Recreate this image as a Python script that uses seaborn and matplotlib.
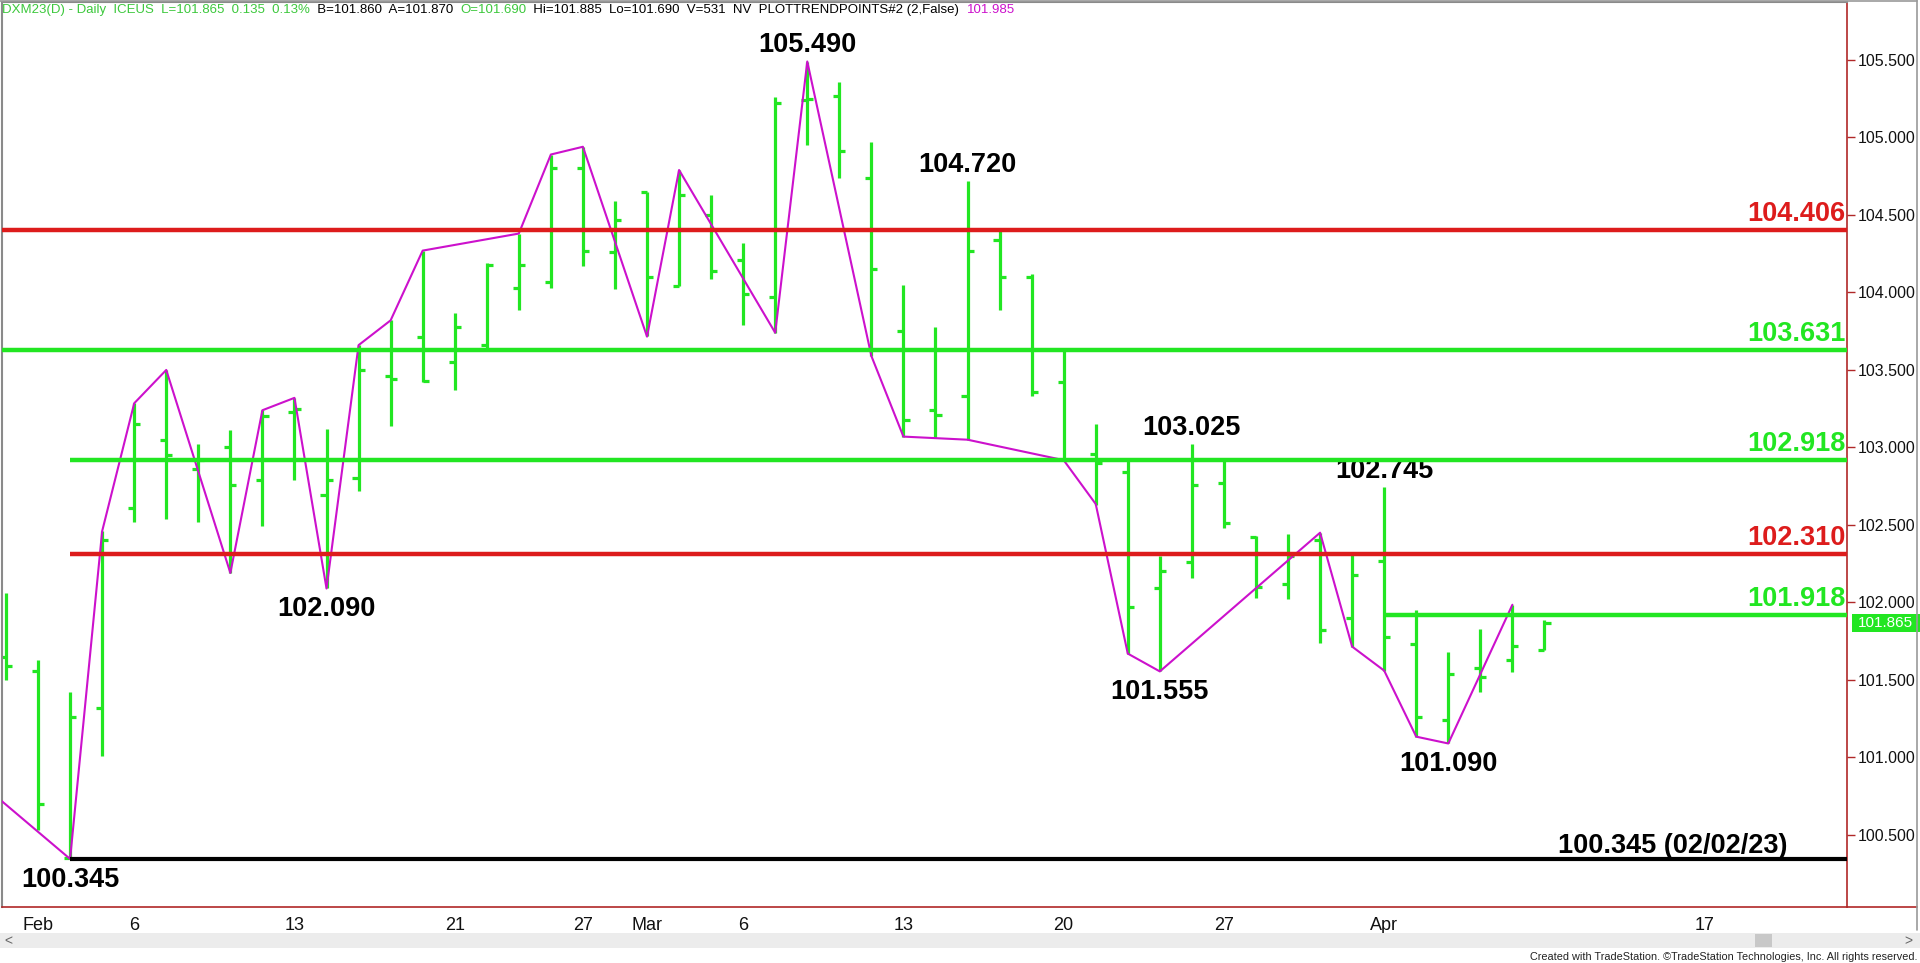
import matplotlib
matplotlib.use('Agg')
import matplotlib.pyplot as plt
from matplotlib import font_manager
from matplotlib.patches import Rectangle
from matplotlib.lines import Line2D
import pandas as pd
import seaborn as sns

# Daily OHLC bars of DXM23, Jan 31 .. Apr 10 (one entry per trading day)
opens = [101.65, 101.56, 100.35, 101.32, 102.61, 103.05, 102.86, 103.00, 102.79, 103.23,
         102.69, 102.80, 103.46, 103.71, 103.55, 103.66, 104.03, 104.07, 104.80, 104.26,
         104.65, 104.04, 104.50, 104.21, 103.97, 105.24, 105.27, 104.74, 103.75, 103.24,
         103.33, 104.34, 104.10, 103.42, 102.96, 102.84, 102.09, 102.26, 102.77, 102.42,
         102.12, 102.40, 101.90, 102.27, 101.73, 101.24, 101.58, 101.63, 101.69]
highs = [102.06, 101.63, 101.42, 102.46, 103.29, 103.50, 103.02, 103.11, 103.24, 103.32,
         103.12, 103.66, 103.82, 104.27, 103.87, 104.19, 104.38, 104.89, 104.94, 104.59,
         104.65, 104.79, 104.63, 104.32, 105.26, 105.49, 105.36, 104.97, 104.05, 103.78,
         104.72, 104.40, 104.12, 103.64, 103.15, 102.91, 102.30, 103.025, 102.91, 102.43,
         102.44, 102.45, 102.31, 102.745, 101.95, 101.68, 101.83, 101.985, 101.885]
lows = [101.50, 100.53, 100.345, 101.01, 102.52, 102.54, 102.52, 102.19, 102.49, 102.79,
        102.09, 102.72, 103.14, 103.42, 103.37, 103.63, 103.89, 104.03, 104.17, 104.02,
        103.72, 104.04, 104.09, 103.79, 103.74, 104.95, 104.74, 103.59, 103.07, 103.06,
        103.05, 103.89, 103.33, 102.91, 102.63, 101.67, 101.555, 102.16, 102.48, 102.03,
        102.02, 101.74, 101.71, 101.56, 101.13, 101.09, 101.42, 101.55, 101.69]
closes = [101.59, 100.70, 101.26, 102.40, 103.15, 102.95, 102.92, 102.76, 103.20, 103.25,
          102.79, 103.50, 103.44, 103.43, 103.78, 104.18, 104.18, 104.80, 104.27, 104.47,
          104.10, 104.63, 104.14, 103.99, 105.22, 105.25, 104.91, 104.15, 103.18, 103.21,
          104.27, 104.10, 103.36, 102.92, 102.90, 101.97, 102.20, 102.76, 102.51, 102.10,
          102.30, 101.82, 102.18, 101.78, 101.26, 101.54, 101.52, 101.72, 101.865]

# trend points line (bar index, price); the first point lies before the visible range
pivot_idx = [-1, 2, 3, 4, 5, 7, 8, 9, 10, 11, 12, 13, 16, 17, 18, 20, 21, 24, 25, 27,
             28, 30, 33, 34, 35, 36, 41, 42, 43, 44, 45, 47]
pivot_val = [100.87, 100.345, 102.46, 103.285, 103.50, 102.19, 103.24, 103.32, 102.09,
             103.66, 103.82, 104.27, 104.38, 104.89, 104.94, 103.715, 104.79, 103.74,
             105.49, 103.59, 103.07, 103.05, 102.918, 102.635, 101.67, 101.555, 102.45,
             101.715, 101.56, 101.134, 101.09, 101.985]

# support / resistance levels
level_vals = [104.406, 103.631, 102.918, 102.310, 101.918]
level_kind = ['red', 'green', 'green', 'red', 'green']
level_from = [None, None, 2, 2, 43]
main_low = 100.345
main_low_idx = 2
main_low_text = '100.345 (02/02/23)'

# labelled swing highs / lows
swing_high_idx = [25, 30, 37, 43]
swing_low_idx = [36, 45, 10, 2]

tick_idx = [1, 4, 9, 14, 18, 20, 23, 28, 33, 38, 43, 53]
tick_lab = ['Feb', '6', '13', '21', '27', 'Mar', '6', '13', '20', '27', 'Apr', '17']
y_ticks = [100.5, 101.0, 101.5, 102.0, 102.5, 103.0, 103.5, 104.0, 104.5, 105.0, 105.5]

header_parts = [('DXM23(D) - Daily  ICEUS  L=101.865  0.135  0.13%', 'green'),
                ('  B=101.860  A=101.870  ', 'black'),
                ('O=101.690', 'green'),
                ('  Hi=101.885  Lo=101.690  V=531  NV  PLOTTRENDPOINTS#2 (2,False)  ', 'black'),
                ('101.985', 'magenta')]
footer = 'Created with TradeStation. \u00a9TradeStation Technologies, Inc. All rights reserved.'

GREEN = '#22e622'
RED = '#dd1c1c'
MAGENTA = '#cc11cc'
AXIS = '#b02828'
colors = {'green': GREEN, 'red': RED, 'black': 'black', 'magenta': MAGENTA}

sns.set_style('white')
names = {f.name for f in font_manager.fontManager.ttflist}
narrow = 'Liberation Sans Narrow' if 'Liberation Sans Narrow' in names else 'Liberation Sans'
plt.rcParams['font.family'] = ['Liberation Sans', 'DejaVu Sans']

W, H = 1920, 963
fig = plt.figure(figsize=(19.2, 9.63), dpi=100)
ax = fig.add_axes([2 / W, 1 - 907 / H, 1845 / W, 905 / H])
x0, x1 = -0.125, 57.44
ax.set_xlim(x0, x1)
ax.set_ylim(100.035, 105.874)

# OHLC bars
xs = list(range(len(opens)))
tw = 0.19
ax.vlines(xs, lows, highs, color=GREEN, lw=2.3, zorder=2)
ax.hlines(opens, [x - tw for x in xs], xs, color=GREEN, lw=2.3, zorder=2)
ax.hlines(closes, xs, [x + tw for x in xs], color=GREEN, lw=2.3, zorder=2)

# trend points line
piv = pd.DataFrame({'idx': pivot_idx, 'value': pivot_val})
sns.lineplot(data=piv, x='idx', y='value', sort=False, estimator=None, color=MAGENTA,
             lw=1.5, ax=ax, zorder=3, legend=False)

# levels
ytr = ax.get_yaxis_transform()
for v, k, s in zip(level_vals, level_kind, level_from):
    ax.hlines(v, x0 if s is None else s, x1, color=colors[k], lw=3.2, zorder=4)
    ax.annotate(f'{v:.3f}', xy=(0.999, v), xycoords=ytr, xytext=(0, 6.5),
                textcoords='offset points', ha='right', va='baseline',
                color=colors[k], fontsize=19.5, fontweight='bold')
ax.hlines(main_low, main_low_idx, x1, color='black', lw=3.0, zorder=4)
ax.annotate(main_low_text, xy=(0.968, main_low), xycoords=ytr, xytext=(0, 4.5),
            textcoords='offset points', ha='right', va='baseline',
            color='black', fontsize=19.5, fontweight='bold')

for i in swing_high_idx:
    ax.annotate(f'{highs[i]:.3f}', xy=(i, highs[i]), xytext=(0, 6.5),
                textcoords='offset points', ha='center', va='baseline',
                fontsize=19.5, fontweight='bold', color='black')
for i in swing_low_idx:
    ax.annotate(f'{lows[i]:.3f}', xy=(i, lows[i]), xytext=(0, -20),
                textcoords='offset points', ha='center', va='baseline',
                fontsize=19.5, fontweight='bold', color='black')

# axes styling
ax.set_xlabel('')
ax.set_ylabel('')
ax.yaxis.tick_right()
ax.set_yticks(y_ticks)
ax.set_yticklabels([f'{v:.3f}' for v in y_ticks], family=narrow, fontsize=11.5)
ax.set_xticks(tick_idx)
ax.set_xticklabels(tick_lab, family=narrow, fontsize=13)
ax.tick_params(axis='y', direction='out', length=6, width=1, color=AXIS, pad=1.5, labelcolor='#111111')
ax.tick_params(axis='x', direction='inout', length=8, width=1, color=AXIS, pad=3, labelcolor='#111111')
for side in ['right', 'bottom']:
    ax.spines[side].set_color(AXIS)
    ax.spines[side].set_linewidth(1.2)
for side in ['left', 'top']:
    ax.spines[side].set_color('#8a8a8a')
    ax.spines[side].set_linewidth(1.5)
ax.grid(False)

# last price marker on the price scale
last = closes[-1]
ax.add_patch(Rectangle((1.0027, last - 0.058), 0.0375, 0.116, transform=ytr,
                       facecolor=GREEN, edgecolor='none', clip_on=False, zorder=5))
ax.text(1.021, last, f'{last:.3f}', transform=ytr, ha='center', va='center',
        color='white', family=narrow, fontsize=11, clip_on=False, zorder=6)

# frame bits outside the axes
fig.add_artist(Line2D([1847 / W, 1917 / W], [1 - 907 / H] * 2, color=AXIS, lw=1.2))
fig.add_artist(Line2D([1917 / W] * 2, [1 - 930 / H, 1], color='#9a9a9a', lw=1.2))
fig.add_artist(Line2D([0, 1917 / W], [1 - 1 / H] * 2, color='#9a9a9a', lw=1.2))
fig.add_artist(Rectangle((0, 1 - 948 / H), 1, 15 / H, transform=fig.transFigure,
                         facecolor='#ececec', edgecolor='none'))
fig.add_artist(Rectangle((1755 / W, 1 - 947 / H), 17 / W, 13 / H, transform=fig.transFigure,
                         facecolor='#c8c8c8', edgecolor='none'))
fig.text(8 / W, 1 - 941 / H, '<', color='#666666', fontsize=10, ha='center', va='center')
fig.text(1908 / W, 1 - 941 / H, '>', color='#666666', fontsize=10, ha='center', va='center')
fig.text(1917 / W, 1 - 957 / H, footer, ha='right', va='center', family=narrow,
         fontsize=7.8, color='#222222')

# header line
prev = None
for txt, k in header_parts:
    c = '#3cc83c' if k == 'green' else colors[k]
    if prev is None:
        prev = fig.text(2 / W, 1 - 10 / H, txt, color=c, family=narrow, fontsize=9.5,
                        ha='left', va='center')
    else:
        prev = ax.annotate(txt, xy=(1, 0.5), xycoords=prev, ha='left', va='center',
                           color=c, family=narrow, fontsize=9.5, annotation_clip=False)

fig.savefig('out.png', dpi=100)
